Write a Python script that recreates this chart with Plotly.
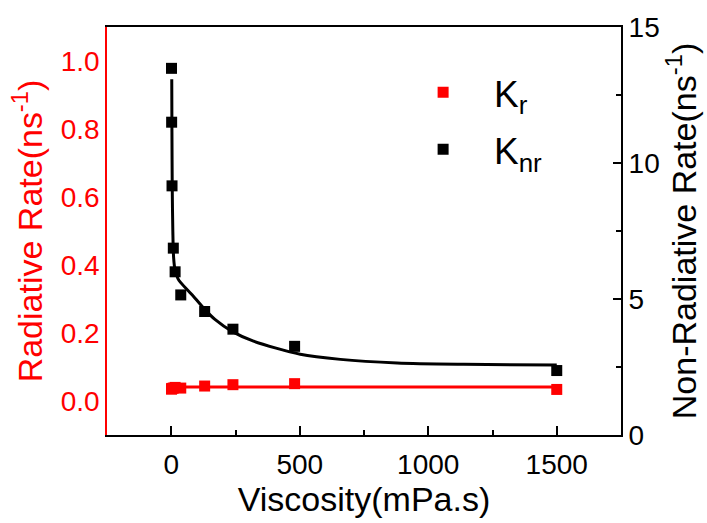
import plotly.graph_objects as go

# Data
visc = [1.0, 1.5, 3, 8, 15, 37, 130, 240, 480, 1500]
k_r = [0.035, 0.036, 0.037, 0.038, 0.040, 0.038, 0.044, 0.048, 0.051, 0.034]
k_nr = [13.48, 11.50, 9.16, 6.87, 6.00, 5.15, 4.54, 3.89, 3.26, 2.37]

# Fitted curves
kr_fit_x = [2, 1500]
kr_fit_y = [0.041, 0.041]
knr_fit_x = [2, 2.7, 3.9, 6.2, 9.3, 15, 26, 37, 86, 132, 170, 238, 320, 502, 658, 879, 1138, 1500]
knr_fit_y = [13.08, 11.13, 9.06, 7.48, 6.51, 6.05, 5.75, 5.6, 5.1, 4.6, 4.25, 3.8, 3.45, 2.97, 2.78, 2.65, 2.6, 2.57]

x_ticks = [0, 500, 1000, 1500]
y_ticks = [0.0, 0.2, 0.4, 0.6, 0.8, 1.0]
y2_ticks = [0, 5, 10, 15]

FONT = "Liberation Sans, Arial, sans-serif"
RED = "#FF0000"
NB = "\u00a0"

fig = go.Figure()

fig.add_trace(go.Scatter(x=kr_fit_x, y=kr_fit_y, mode="lines",
                         line=dict(color=RED, width=3), showlegend=False,
                         yaxis="y"))
fig.add_trace(go.Scatter(x=knr_fit_x, y=knr_fit_y, mode="lines",
                         line=dict(color="black", width=3, shape="spline", smoothing=0.8),
                         showlegend=False, yaxis="y2"))
fig.add_trace(go.Scatter(x=visc, y=k_r, mode="markers", name=NB * 3 + "K<sub>r</sub>",
                         legendgroup="a",
                         marker=dict(symbol="square", size=11, color=RED),
                         yaxis="y"))
fig.add_trace(go.Scatter(x=visc, y=k_nr, mode="markers", name=NB * 3 + "K<sub>nr</sub>",
                         legendgroup="b",
                         marker=dict(symbol="square", size=11, color="black"),
                         yaxis="y2"))

fig.update_layout(
    width=707, height=523,
    margin=dict(l=107, r=86, t=24, b=88),
    paper_bgcolor="white", plot_bgcolor="white",
    font=dict(family=FONT, size=28, color="black"),
    xaxis=dict(
        range=[-250, 1750], tickvals=x_ticks, ticks="inside", ticklen=9,
        tickwidth=1.5, tickcolor="black", ticklabelstandoff=3,
        minor=dict(dtick=250, tick0=0, ticks="inside", ticklen=5, tickwidth=1.5, tickcolor="black"),
        showline=True, linecolor="black", linewidth=2, mirror=True,
        showgrid=False, zeroline=False,
        tickfont=dict(size=28, color="black"),
        title=dict(text="Viscosity(mPa.s)", font=dict(size=34, color="black"), standoff=6),
    ),
    yaxis=dict(
        range=[-0.1, 1.1], tickvals=y_ticks, tickformat=".1f", ticks="",
        showline=True, linecolor=RED, linewidth=1.5,
        showgrid=False, zeroline=False,
        tickfont=dict(size=28, color=RED),
        title=dict(text="Radiative Rate(ns<sup>-1</sup>)", font=dict(size=34, color=RED), standoff=8),
    ),
    yaxis2=dict(
        range=[0, 15], tickvals=y2_ticks, overlaying="y", side="right",
        ticks="inside", ticklen=8, tickwidth=1.5, tickcolor="black",
        minor=dict(dtick=2.5, tick0=0, ticks="inside", ticklen=5, tickwidth=1.5, tickcolor="black"),
        showline=True, linecolor="black", linewidth=2,
        showgrid=False, zeroline=False,
        tickfont=dict(size=28, color="black"),
        title=dict(text="Non-Radiative Rate(ns<sup>-1</sup>)", font=dict(size=34, color="black"), standoff=11),
    ),
    legend=dict(x=0.615, y=0.915, xanchor="left", yanchor="top",
                bgcolor="rgba(0,0,0,0)", borderwidth=0,
                font=dict(size=37, color="black"), tracegroupgap=6),
    showlegend=True,
)

fig.write_html("out.html")
